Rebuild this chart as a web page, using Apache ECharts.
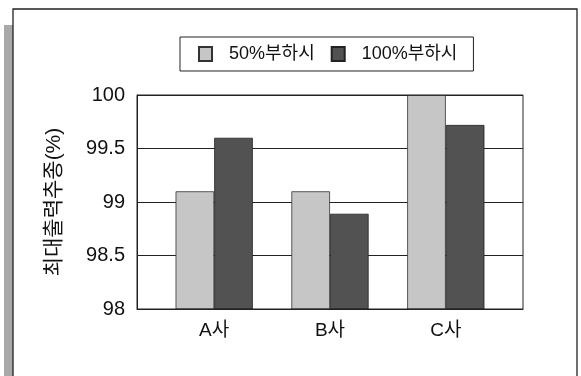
<!DOCTYPE html>
<html><head><meta charset="utf-8">
<script src="https://cdn.jsdelivr.net/npm/echarts@6/dist/echarts.min.js"></script>
<style>html,body{margin:0;padding:0;background:#fff}#c{width:581px;height:376px}</style>
</head><body><div id="c"></div>
<script>
const categories = ['A사', 'B사', 'C사'];
const seriesNames = ['50%부하시', '100%부하시'];
const load50 = [99.1, 99.1, 100];
const load100 = [99.6, 98.89, 99.72];
const yTicks = [98, 98.5, 99, 99.5, 100];

const FONT = '"Liberation Sans", "Noto Sans CJK KR", sans-serif';
const PL = 137, PT = 95, PW = 386, PH = 214;
const INSET = 19.3;
const chart = echarts.init(document.getElementById('c'), null, {renderer: 'canvas'});
chart.setOption({
  animation: false,
  backgroundColor: '#fff',
  graphic: [
    {type: 'rect', shape: {x: 4, y: 25, width: 9, height: 360}, style: {fill: '#a9a9a9'}},
    {type: 'rect', shape: {x: 13, y: 9, width: 564, height: 380}, style: {fill: 'none', stroke: '#222', lineWidth: 1.3}},
    {type: 'rect', shape: {x: PL, y: PT, width: PW, height: PH}, style: {fill: 'none', stroke: '#222', lineWidth: 1}, z: 10}
  ],
  legend: {
    top: 37, left: 180, itemWidth: 13, itemHeight: 14, itemGap: 16,
    padding: [8, 16, 8, 18],
    borderColor: '#222', borderWidth: 1,
    icon: 'rect',
    textStyle: {fontFamily: FONT, fontSize: 18, color: '#111', padding: [0, 0, 0, 12]},
    data: seriesNames
  },
  grid: [
    {left: PL, top: PT, width: PW, height: PH},
    {left: PL + INSET, top: PT, width: PW - 2 * INSET, height: PH}
  ],
  xAxis: [
    {type: 'value', gridIndex: 0, min: 0, max: 1, show: true,
     axisLine: {show: true, lineStyle: {color: '#222'}}, axisTick: {show: false},
     axisLabel: {show: false}, splitLine: {show: false}},
    {type: 'category', gridIndex: 1, data: categories,
     axisLine: {show: false}, axisTick: {show: false},
     axisLabel: {fontFamily: FONT, fontSize: 19, color: '#111', margin: 12}}
  ],
  yAxis: [
    {type: 'value', gridIndex: 0, min: 98, max: 100, interval: 0.5,
     name: '최대출력추종(%)', nameLocation: 'middle', nameGap: 72, nameRotate: 90,
     nameTextStyle: {fontFamily: FONT, fontSize: 21, color: '#111'},
     axisLine: {show: true, lineStyle: {color: '#222'}},
     axisTick: {show: false},
     splitLine: {lineStyle: {color: '#222', width: 1}},
     axisLabel: {fontFamily: FONT, fontSize: 20, color: '#111', margin: 12,
       formatter: v => yTicks.includes(v) ? String(v) : ''}},
    {type: 'value', gridIndex: 1, min: 98, max: 100, interval: 0.5, show: false,
     splitLine: {show: false}}
  ],
  series: [
    {name: seriesNames[0], type: 'bar', xAxisIndex: 1, yAxisIndex: 1, data: load50,
     barGap: '0%', barCategoryGap: '33.3%', z: 5,
     itemStyle: {color: '#c6c6c6', borderColor: '#333', borderWidth: 0.8}},
    {name: seriesNames[1], type: 'bar', xAxisIndex: 1, yAxisIndex: 1, data: load100,
     barGap: '0%', barCategoryGap: '33.3%', z: 5,
     itemStyle: {color: '#525252', borderColor: '#222', borderWidth: 0.8}}
  ]
});
</script></body></html>
